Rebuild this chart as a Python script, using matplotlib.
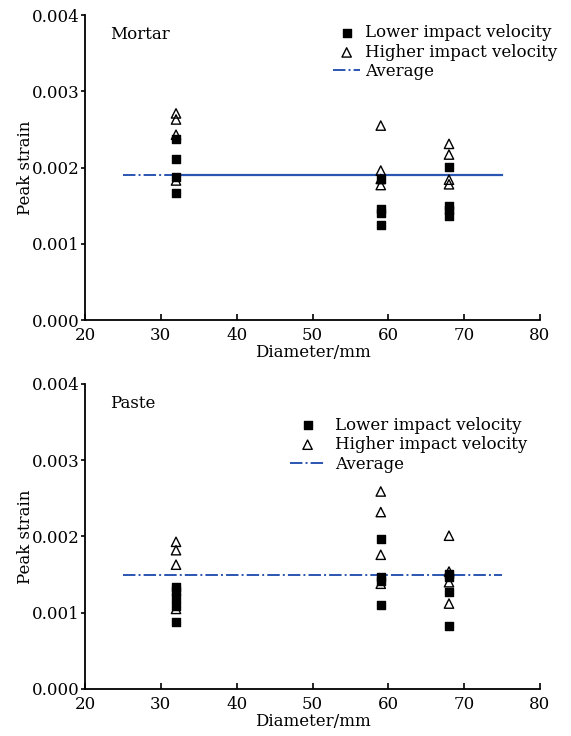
import matplotlib.pyplot as plt

plt.rcParams['font.family'] = ['DejaVu Serif']
plt.rcParams['font.size'] = 12

# Mortar
mortar_low_d = [32, 32, 32, 32, 59, 59, 59, 59, 68, 68, 68, 68]
mortar_low_s = [0.00237, 0.00211, 0.00188, 0.00166,
                0.00185, 0.00145, 0.00141, 0.00125,
                0.00201, 0.00149, 0.00144, 0.00136]
mortar_high_d = [32, 32, 32, 32, 59, 59, 59, 59, 68, 68, 68, 68]
mortar_high_s = [0.00271, 0.00263, 0.00243, 0.00183,
                 0.00255, 0.00196, 0.00185, 0.00177,
                 0.00231, 0.00217, 0.00184, 0.00178]
mortar_avg = 0.0019

# Paste
paste_low_d = [32, 32, 32, 32, 32, 59, 59, 59, 59, 68, 68, 68, 68]
paste_low_s = [0.00134, 0.00128, 0.00119, 0.00109, 0.00088,
               0.00197, 0.00147, 0.00142, 0.00110,
               0.00151, 0.00147, 0.00127, 0.00083]
paste_high_d = [32, 32, 32, 32, 59, 59, 59, 59, 68, 68, 68, 68]
paste_high_s = [0.00193, 0.00182, 0.00163, 0.00105,
                0.00259, 0.00232, 0.00176, 0.00138,
                0.00201, 0.00154, 0.00140, 0.00112]
paste_avg = 0.0015

avg_x = [25, 75]
avg_x2 = [32, 75]

blue = '#2a55b0'

fig = plt.figure(figsize=(5.71, 7.36), dpi=100)
ax1 = fig.add_axes([0.1489, 0.5652, 0.7968, 0.4144])
ax2 = fig.add_axes([0.1489, 0.0639, 0.7968, 0.4144])


def style(ax, name):
    ax.set_xlim(20, 80)
    ax.set_ylim(0, 0.004)
    ax.set_xticks([20, 30, 40, 50, 60, 70, 80])
    ax.set_yticks([0, 0.001, 0.002, 0.003, 0.004])
    ax.set_yticklabels(['0.000', '0.001', '0.002', '0.003', '0.004'])
    ax.spines['top'].set_visible(False)
    ax.spines['right'].set_visible(False)
    ax.spines['left'].set_linewidth(1.3)
    ax.spines['bottom'].set_linewidth(1.3)
    ax.tick_params(axis='x', direction='in', length=4, width=1.2, pad=5, labelsize=12)
    ax.tick_params(axis='y', direction='out', length=3, width=1.2, pad=1, labelsize=12)
    ax.set_xlabel('Diameter/mm', fontsize=12, labelpad=0)
    ax.set_ylabel('Peak strain', fontsize=12, labelpad=-2)
    ax.text(0.055, 0.935, name, transform=ax.transAxes, fontsize=12, va='center')


def legend(ax, x, y, hl, pad):
    h, l = ax.get_legend_handles_labels()
    ax.legend([h[1], h[2], h[0]], [l[1], l[2], l[0]], loc='upper left',
              bbox_to_anchor=(x, y), bbox_transform=fig.transFigure,
              frameon=False, fontsize=12, handlelength=hl, handletextpad=pad,
              labelspacing=0.15, borderpad=0, borderaxespad=0)


# top
ax1.plot(avg_x2, [mortar_avg, mortar_avg], '-', color=blue, lw=1.6)
ax1.plot(avg_x, [mortar_avg, mortar_avg], '-.', color=blue, lw=1.4, label='Average')
ax1.scatter(mortar_low_d, mortar_low_s, marker='s', s=26, color='black',
            label='Lower impact velocity', zorder=3)
ax1.scatter(mortar_high_d, mortar_high_s, marker='^', s=45, facecolors='none',
            edgecolors='black', linewidths=1.0, label='Higher impact velocity', zorder=4)
style(ax1, 'Mortar')
legend(ax1, 0.583, 0.967, 1.65, 0.3)

# bottom
ax2.plot(avg_x, [paste_avg, paste_avg], '-.', color=blue, lw=1.4, label='Average')
ax2.scatter(paste_low_d, paste_low_s, marker='s', s=26, color='black',
            label='Lower impact velocity', zorder=3)
ax2.scatter(paste_high_d, paste_high_s, marker='^', s=45, facecolors='none',
            edgecolors='black', linewidths=1.0, label='Higher impact velocity', zorder=4)
style(ax2, 'Paste')
legend(ax2, 0.508, 0.434, 2.1, 0.6)

fig.savefig('out.png', dpi=100)
